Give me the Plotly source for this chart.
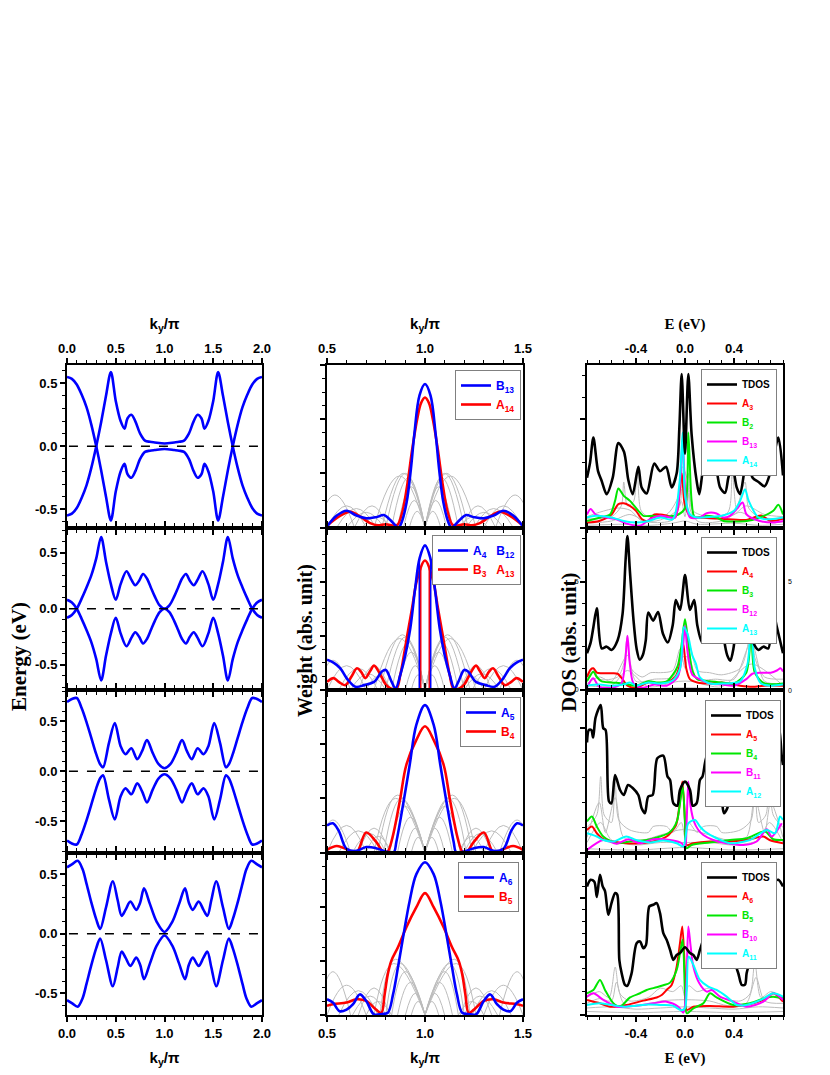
import plotly.graph_objects as go

W, H = 830, 1075
OFF = 8  # page margin of the html body

# ---------------- left column: band structure (k_y/pi, energy in eV) ----------------
band1_k = [0, 0.05, 0.1, 0.15, 0.2, 0.25, 0.3, 0.35, 0.4, 0.45, 0.5, 0.55, 0.59, 0.62, 0.66, 0.7, 0.75, 0.8, 0.85, 0.9, 1.0,
           1.1, 1.15, 1.2, 1.25, 1.3, 1.34, 1.38, 1.41, 1.45, 1.5, 1.55, 1.6, 1.65, 1.7, 1.75, 1.8, 1.85, 1.9, 1.95, 2.0]
band1_a = [0.55, 0.535, 0.49, 0.41, 0.31, 0.17, 0.0, -0.19, -0.4, -0.59, -0.36, -0.2, -0.14, -0.22, -0.25, -0.2, -0.1, -0.045, -0.035, -0.03, -0.022,
           -0.03, -0.035, -0.045, -0.1, -0.2, -0.25, -0.22, -0.14, -0.2, -0.36, -0.59, -0.4, -0.19, 0.0, 0.17, 0.31, 0.41, 0.49, 0.535, 0.55]
band1_b = [-0.55, -0.535, -0.49, -0.41, -0.31, -0.17, 0.0, 0.19, 0.4, 0.59, 0.36, 0.2, 0.14, 0.22, 0.25, 0.2, 0.1, 0.045, 0.035, 0.03, 0.022,
           0.03, 0.035, 0.045, 0.1, 0.2, 0.25, 0.22, 0.14, 0.2, 0.36, 0.59, 0.4, 0.19, 0.0, -0.17, -0.31, -0.41, -0.49, -0.535, -0.55]

band2_k = [0, 0.05, 0.1, 0.15, 0.2, 0.25, 0.3, 0.35, 0.4, 0.45, 0.5, 0.55, 0.61, 0.66, 0.7, 0.74, 0.78, 0.82, 0.86, 0.9, 0.95, 1.0,
           1.05, 1.1, 1.14, 1.18, 1.22, 1.26, 1.3, 1.34, 1.39, 1.45, 1.5, 1.55, 1.6, 1.65, 1.7, 1.75, 1.8, 1.85, 1.9, 1.95, 2.0]
band2_a = [-0.08, -0.055, 0.0, 0.09, 0.19, 0.3, 0.45, 0.64, 0.42, 0.22, 0.08, 0.22, 0.335, 0.26, 0.21, 0.25, 0.31, 0.27, 0.19, 0.11, 0.03, 0.0,
           0.03, 0.11, 0.19, 0.27, 0.31, 0.25, 0.21, 0.26, 0.335, 0.22, 0.08, 0.22, 0.42, 0.64, 0.45, 0.3, 0.19, 0.09, 0.0, -0.055, -0.08]
band2_b = [0.08, 0.055, 0.0, -0.09, -0.19, -0.3, -0.45, -0.64, -0.42, -0.22, -0.08, -0.22, -0.335, -0.26, -0.21, -0.25, -0.31, -0.27, -0.19, -0.11, -0.03, 0.0,
           -0.03, -0.11, -0.19, -0.27, -0.31, -0.25, -0.21, -0.26, -0.335, -0.22, -0.08, -0.22, -0.42, -0.64, -0.45, -0.3, -0.19, -0.09, 0.0, 0.055, 0.08]

band3_k = [0, 0.05, 0.1, 0.15, 0.2, 0.25, 0.3, 0.34, 0.37, 0.43, 0.49, 0.55, 0.6, 0.66, 0.72, 0.77, 0.82, 0.88, 0.94, 1.0,
           1.06, 1.12, 1.18, 1.23, 1.28, 1.34, 1.4, 1.45, 1.51, 1.57, 1.63, 1.66, 1.7, 1.75, 1.8, 1.85, 1.9, 1.95, 2.0]
band3_a = [0.69, 0.72, 0.73, 0.63, 0.49, 0.33, 0.17, 0.07, 0.04, 0.28, 0.48, 0.25, 0.17, 0.23, 0.12, 0.2, 0.31, 0.18, 0.07, 0.03,
           0.07, 0.18, 0.31, 0.2, 0.12, 0.23, 0.17, 0.25, 0.48, 0.28, 0.04, 0.07, 0.17, 0.33, 0.49, 0.63, 0.73, 0.72, 0.69]
band3_b = [-0.69, -0.72, -0.73, -0.63, -0.49, -0.33, -0.17, -0.07, -0.04, -0.28, -0.48, -0.25, -0.17, -0.23, -0.12, -0.2, -0.31, -0.18, -0.07, -0.03,
           -0.07, -0.18, -0.31, -0.2, -0.12, -0.23, -0.17, -0.25, -0.48, -0.28, -0.04, -0.07, -0.17, -0.33, -0.49, -0.63, -0.73, -0.72, -0.69]

band4_k = [0, 0.05, 0.11, 0.16, 0.2, 0.25, 0.3, 0.34, 0.4, 0.47, 0.52, 0.56, 0.6, 0.65, 0.71, 0.75, 0.79, 0.85, 0.92, 1.0,
           1.08, 1.15, 1.21, 1.25, 1.29, 1.35, 1.4, 1.44, 1.48, 1.53, 1.6, 1.66, 1.7, 1.75, 1.8, 1.84, 1.89, 1.95, 2.0]
band4_a = [0.556, 0.58, 0.61, 0.54, 0.42, 0.26, 0.12, 0.04, 0.22, 0.44, 0.28, 0.15, 0.2, 0.27, 0.2, 0.26, 0.38, 0.25, 0.1, 0.015,
           0.1, 0.25, 0.38, 0.26, 0.2, 0.27, 0.2, 0.15, 0.28, 0.44, 0.22, 0.04, 0.12, 0.26, 0.42, 0.54, 0.61, 0.58, 0.556]
band4_b = [-0.556, -0.58, -0.61, -0.54, -0.42, -0.26, -0.12, -0.04, -0.22, -0.44, -0.28, -0.15, -0.2, -0.27, -0.2, -0.26, -0.38, -0.25, -0.1, -0.015,
           -0.1, -0.25, -0.38, -0.26, -0.2, -0.27, -0.2, -0.15, -0.28, -0.44, -0.22, -0.04, -0.12, -0.26, -0.42, -0.54, -0.61, -0.58, -0.556]

band_ranges = [0.645, 0.725, 0.81, 0.68]

# ---------------- middle column: weights ----------------
w1_blue_k = [0.5, 0.55, 0.6, 0.65, 0.7, 0.75, 0.79, 0.82, 0.865, 0.88, 0.906, 0.928, 0.945, 0.972, 1.0,
             1.028, 1.055, 1.072, 1.094, 1.12, 1.135, 1.18, 1.21, 1.25, 1.3, 1.35, 1.4, 1.45, 1.5]
w1_blue = [0.02, 0.22, 0.31, 0.22, 0.17, 0.19, 0.23, 0.15, 0.0, 0.09, 0.46, 1.08, 1.7, 2.44, 2.65,
           2.44, 1.7, 1.08, 0.46, 0.09, 0.0, 0.15, 0.23, 0.19, 0.17, 0.22, 0.31, 0.22, 0.02]
w1_red_k = [0.5, 0.56, 0.62, 0.67, 0.72, 0.76, 0.8, 0.84, 0.86, 0.885, 0.91, 0.935, 0.96, 0.98, 1.0,
            1.02, 1.04, 1.065, 1.09, 1.115, 1.14, 1.16, 1.2, 1.24, 1.28, 1.33, 1.38, 1.44, 1.5]
w1_red = [0.03, 0.2, 0.29, 0.2, 0.08, 0.04, 0.06, 0.03, 0.05, 0.3, 0.8, 1.45, 2.0, 2.3, 2.4,
          2.3, 2.0, 1.45, 0.8, 0.3, 0.05, 0.03, 0.06, 0.04, 0.08, 0.2, 0.29, 0.2, 0.03]
# gray arches: (start k, peak k, end k, peak height)
w1_gray = [(0.74, 0.87, 1.0, 0.95), (0.78, 0.89, 1.0, 1.0), (0.8, 0.9, 1.0, 1.0), (0.83, 0.915, 1.0, 0.92), (0.86, 0.93, 1.0, 0.75),
           (0.89, 0.945, 1.0, 0.5), (0.92, 0.96, 1.0, 0.3),
           (1.0, 1.13, 1.26, 0.95), (1.0, 1.11, 1.22, 1.0), (1.0, 1.1, 1.2, 1.0), (1.0, 1.085, 1.17, 0.92), (1.0, 1.07, 1.14, 0.75),
           (1.0, 1.055, 1.11, 0.5), (1.0, 1.04, 1.08, 0.3),
           (0.45, 0.54, 0.64, 0.6), (0.5, 0.6, 0.7, 0.4), (0.55, 0.65, 0.75, 0.35), (0.6, 0.7, 0.79, 0.28), (0.68, 0.75, 0.83, 0.2),
           (0.64, 0.73, 0.81, 0.4),
           (1.36, 1.46, 1.55, 0.6), (1.3, 1.4, 1.5, 0.4), (1.25, 1.35, 1.45, 0.35), (1.21, 1.3, 1.4, 0.28), (1.17, 1.25, 1.32, 0.2),
           (1.19, 1.27, 1.36, 0.4)]

w2_blue_k = [0.5, 0.535, 0.568, 0.6, 0.645, 0.69, 0.74, 0.78, 0.8, 0.83, 0.85, 0.874, 0.9, 0.925, 0.95, 0.973, 1.0,
             1.027, 1.05, 1.075, 1.1, 1.126, 1.15, 1.17, 1.2, 1.22, 1.26, 1.31, 1.355, 1.4, 1.432, 1.465, 1.5]
w2_blue = [0.56, 0.5, 0.4, 0.22, 0.06, 0.09, 0.15, 0.34, 0.37, 0.15, 0.03, 0.28, 0.65, 1.14, 1.88, 2.44, 2.67,
           2.44, 1.88, 1.14, 0.65, 0.28, 0.03, 0.15, 0.37, 0.34, 0.15, 0.09, 0.06, 0.22, 0.4, 0.5, 0.56]
w2_red_k = [0.5, 0.534, 0.56, 0.594, 0.625, 0.653, 0.675, 0.695, 0.72, 0.74, 0.77, 0.8, 0.83, 0.855, 0.874, 0.89, 0.91, 0.934, 0.96, 1.0,
            1.04, 1.066, 1.09, 1.11, 1.126, 1.145, 1.17, 1.2, 1.23, 1.26, 1.28, 1.305, 1.325, 1.347, 1.375, 1.406, 1.44, 1.466, 1.5]
w2_red = [0.15, 0.22, 0.15, 0.09, 0.25, 0.4, 0.33, 0.22, 0.35, 0.45, 0.3, 0.1, 0.02, 0.03, 0.28, 0.59, 1.02, 1.51, 2.04, 2.39,
          2.04, 1.51, 1.02, 0.59, 0.28, 0.03, 0.02, 0.1, 0.3, 0.45, 0.35, 0.22, 0.33, 0.4, 0.25, 0.09, 0.15, 0.22, 0.15]
w2_spike_blue_k = [0.971, 1.029]
w2_spike_blue_top = [2.42, 2.42]
w2_spike_red_k = [0.978, 1.022]
w2_spike_red_top = [2.25, 2.25]
w2_gray = [(0.74, 0.87, 1.0, 0.95), (0.77, 0.885, 1.0, 1.02), (0.8, 0.9, 1.0, 0.98), (0.83, 0.915, 1.0, 0.88), (0.86, 0.93, 1.0, 0.7),
           (0.9, 0.95, 1.0, 0.45), (0.93, 0.965, 1.0, 0.28),
           (1.0, 1.13, 1.26, 0.95), (1.0, 1.115, 1.23, 1.02), (1.0, 1.1, 1.2, 0.98), (1.0, 1.085, 1.17, 0.88), (1.0, 1.07, 1.14, 0.7),
           (1.0, 1.05, 1.1, 0.45), (1.0, 1.035, 1.07, 0.28),
           (0.45, 0.53, 0.62, 0.55), (0.5, 0.6, 0.7, 0.45), (0.56, 0.66, 0.76, 0.4), (0.62, 0.71, 0.8, 0.3), (0.7, 0.76, 0.83, 0.25),
           (0.66, 0.74, 0.82, 0.45),
           (1.38, 1.47, 1.55, 0.55), (1.3, 1.4, 1.5, 0.45), (1.24, 1.34, 1.44, 0.4), (1.2, 1.29, 1.38, 0.3), (1.17, 1.24, 1.3, 0.25),
           (1.18, 1.26, 1.34, 0.45)]

w3_blue_k = [0.5, 0.53, 0.56, 0.6, 0.65, 0.7, 0.75, 0.8, 0.84, 0.854, 0.888, 0.922, 0.956, 1.0,
             1.044, 1.078, 1.112, 1.146, 1.16, 1.2, 1.25, 1.3, 1.35, 1.4, 1.44, 1.47, 1.5]
w3_blue = [0.5, 0.54, 0.4, 0.07, 0.03, 0.1, 0.08, 0.02, 0.0, 0.2, 0.88, 1.62, 2.36, 2.72,
           2.36, 1.62, 0.88, 0.2, 0.0, 0.02, 0.08, 0.1, 0.03, 0.07, 0.4, 0.54, 0.5]
w3_red_k = [0.5, 0.55, 0.6, 0.65, 0.7, 0.75, 0.79, 0.81, 0.833, 0.871, 0.905, 0.956, 1.0,
            1.044, 1.095, 1.129, 1.167, 1.19, 1.21, 1.25, 1.3, 1.35, 1.4, 1.45, 1.5]
w3_red = [0.05, 0.12, 0.06, 0.0, 0.37, 0.2, 0.0, 0.02, 0.26, 0.94, 1.62, 2.08, 2.33,
          2.08, 1.62, 0.94, 0.26, 0.02, 0.0, 0.2, 0.37, 0.0, 0.06, 0.12, 0.05]
w3_gray = [(0.74, 0.85, 1.0, 1.0), (0.76, 0.86, 1.0, 1.06), (0.79, 0.88, 1.0, 1.0), (0.82, 0.9, 1.0, 0.85), (0.86, 0.925, 1.0, 0.65),
           (0.9, 0.95, 1.0, 0.45), (0.93, 0.965, 1.0, 0.28),
           (1.0, 1.15, 1.26, 1.0), (1.0, 1.14, 1.24, 1.06), (1.0, 1.12, 1.21, 1.0), (1.0, 1.1, 1.18, 0.85), (1.0, 1.075, 1.14, 0.65),
           (1.0, 1.05, 1.1, 0.45), (1.0, 1.035, 1.07, 0.28),
           (0.45, 0.53, 0.62, 0.6), (0.5, 0.6, 0.7, 0.5), (0.56, 0.66, 0.76, 0.4), (0.63, 0.72, 0.8, 0.35), (0.7, 0.76, 0.83, 0.3),
           (0.66, 0.74, 0.82, 0.45),
           (1.38, 1.47, 1.55, 0.6), (1.3, 1.4, 1.5, 0.5), (1.24, 1.34, 1.44, 0.4), (1.2, 1.28, 1.37, 0.35), (1.17, 1.24, 1.3, 0.3),
           (1.18, 1.26, 1.34, 0.45)]

w4_blue_k = [0.5, 0.53, 0.565, 0.6, 0.633, 0.667, 0.7, 0.74, 0.78, 0.81, 0.837, 0.862, 0.888, 0.922, 0.956, 1.0,
             1.044, 1.078, 1.112, 1.138, 1.163, 1.19, 1.22, 1.26, 1.3, 1.333, 1.367, 1.4, 1.435, 1.47, 1.5]
w4_blue = [0.29, 0.23, 0.07, 0.1, 0.2, 0.38, 0.26, 0.01, 0.02, 0.04, 0.38, 0.88, 1.43, 2.11, 2.6, 2.82,
           2.6, 2.11, 1.43, 0.88, 0.38, 0.04, 0.02, 0.01, 0.26, 0.38, 0.2, 0.1, 0.07, 0.23, 0.29]
w4_red_k = [0.5, 0.53, 0.6, 0.65, 0.7, 0.75, 0.777, 0.794, 0.81, 0.828, 0.862, 0.905, 0.956, 1.0,
            1.044, 1.095, 1.138, 1.172, 1.19, 1.206, 1.223, 1.25, 1.3, 1.35, 1.4, 1.47, 1.5]
w4_red = [0.17, 0.2, 0.23, 0.29, 0.26, 0.1, 0.04, 0.38, 0.75, 1.0, 1.25, 1.62, 1.99, 2.25,
          1.99, 1.62, 1.25, 1.0, 0.75, 0.38, 0.04, 0.1, 0.26, 0.29, 0.23, 0.2, 0.17]
w4_gray = [(0.74, 0.84, 1.0, 0.95), (0.77, 0.85, 1.0, 1.03), (0.8, 0.875, 1.0, 0.95), (0.83, 0.9, 1.0, 0.8), (0.86, 0.925, 1.0, 0.6),
           (0.9, 0.95, 1.0, 0.4), (0.93, 0.965, 1.0, 0.25),
           (1.0, 1.16, 1.26, 0.95), (1.0, 1.15, 1.23, 1.03), (1.0, 1.125, 1.2, 0.95), (1.0, 1.1, 1.17, 0.8), (1.0, 1.075, 1.14, 0.6),
           (1.0, 1.05, 1.1, 0.4), (1.0, 1.035, 1.07, 0.25),
           (0.45, 0.53, 0.62, 0.8), (0.5, 0.6, 0.7, 0.55), (0.56, 0.66, 0.76, 0.45), (0.63, 0.72, 0.8, 0.35), (0.7, 0.76, 0.83, 0.25),
           (0.66, 0.74, 0.82, 0.5),
           (1.38, 1.47, 1.55, 0.8), (1.3, 1.4, 1.5, 0.55), (1.24, 1.34, 1.44, 0.45), (1.2, 1.28, 1.37, 0.35), (1.17, 1.24, 1.3, 0.25),
           (1.18, 1.26, 1.34, 0.5)]

# ---------------- right column: DOS (E in eV) ----------------
dos1_e = [-0.8, -0.775, -0.748, -0.71, -0.68, -0.64, -0.59, -0.544, -0.498, -0.463, -0.427, -0.381, -0.354, -0.313, -0.251, -0.204,
          -0.155, -0.109, -0.068, -0.046, -0.027, 0.0, 0.027, 0.054, 0.095, 0.117, 0.158, 0.204, 0.245, 0.286, 0.327, 0.354,
          0.386, 0.422, 0.449, 0.49, 0.51, 0.552, 0.6, 0.65, 0.7, 0.762, 0.8]
dos1_tdos = [2.3, 3.0, 4.15, 2.6, 2.15, 1.54, 2.3, 3.9, 3.5, 2.2, 1.54, 2.8, 1.85, 1.57, 2.95, 2.6,
             2.8, 1.85, 2.5, 4.6, 7.08, 3.4, 7.08, 4.3, 2.15, 1.54, 2.85, 2.5, 2.9, 1.85, 1.6, 2.3,
             2.85, 1.85, 1.54, 2.77, 3.1, 2.3, 2.1, 1.9, 2.6, 4.15, 2.4]
dos1_red_e = [-0.8, -0.7, -0.6, -0.544, -0.5, -0.45, -0.4, -0.35, -0.3, -0.25, -0.2, -0.15, -0.08, -0.027, 0.0, 0.05, 0.15, 0.3, 0.5, 0.62, 0.7, 0.8]
dos1_red = [0.23, 0.3, 0.6, 1.08, 1.12, 1.0, 0.77, 0.38, 0.3, 0.6, 0.6, 0.55, 0.46, 2.5, 1.0, 0.5, 0.45, 0.4, 0.35, 0.55, 0.3, 0.4]
dos1_green_e = [-0.8, -0.69, -0.612, -0.571, -0.544, -0.5, -0.449, -0.381, -0.34, -0.26, -0.15, -0.054, 0.0, 0.027, 0.054, 0.08,
                0.177, 0.258, 0.313, 0.395, 0.503, 0.612, 0.721, 0.762, 0.8]
dos1_green = [0.3, 0.46, 0.6, 1.23, 1.8, 1.46, 1.23, 0.77, 0.54, 0.54, 0.5, 0.6, 0.9, 4.38, 1.23, 0.46,
              0.54, 0.46, 0.3, 0.28, 0.3, 0.46, 0.77, 1.05, 0.6]
dos1_mag_e = [-0.8, -0.77, -0.73, -0.64, -0.56, -0.476, -0.367, -0.286, -0.204, -0.15, -0.082, -0.041, -0.019, 0.008, 0.041, 0.122,
              0.177, 0.258, 0.313, 0.367, 0.422, 0.47, 0.503, 0.612, 0.721, 0.8]
dos1_mag = [0.6, 0.85, 0.6, 0.46, 0.38, 0.18, 0.08, 0.38, 0.54, 0.5, 0.46, 2.0, 4.0, 1.23, 0.46, 0.46,
            0.66, 0.65, 0.46, 0.54, 0.85, 1.15, 0.6, 0.3, 0.23, 0.3]
dos1_cyan_e = [-0.8, -0.73, -0.6, -0.5, -0.4, -0.3, -0.2, -0.1, -0.046, -0.019, 0.0, 0.041, 0.1, 0.2, 0.3, 0.4, 0.45, 0.49, 0.52, 0.6, 0.7, 0.8]
dos1_cyan = [0.46, 0.54, 0.46, 0.3, 0.23, 0.3, 0.46, 0.38, 2.0, 4.38, 1.5, 0.6, 0.46, 0.49, 0.54, 0.77, 1.23, 1.77, 1.23, 0.46, 0.38, 0.46]
dos1_gray_e = [[-0.8, -0.6, -0.52, -0.5, -0.47, -0.42, -0.39, -0.36, -0.3, -0.15, -0.05, -0.02, 0.0, 0.03, 0.06, 0.2, 0.35, 0.386, 0.42, 0.49, 0.52, 0.6, 0.8],
               [-0.8, -0.6, -0.45, -0.3, -0.1, -0.03, 0.0, 0.03, 0.1, 0.3, 0.45, 0.6, 0.8],
               [-0.8, -0.7, -0.55, -0.45, -0.35, -0.2, -0.05, -0.02, 0.02, 0.06, 0.25, 0.4, 0.5, 0.65, 0.8],
               [-0.8, -0.5, -0.3, -0.1, 0.0, 0.1, 0.4, 0.6, 0.8]]
dos1_gray_v = [[0.4, 0.5, 1.0, 2.1, 1.0, 1.2, 2.6, 0.8, 0.5, 0.6, 1.5, 3.7, 1.0, 2.5, 0.8, 0.5, 0.7, 2.6, 0.9, 2.1, 0.9, 0.5, 0.4],
               [0.2, 0.3, 0.6, 0.25, 0.35, 1.2, 0.5, 1.5, 0.3, 0.3, 0.7, 0.3, 0.25],
               [0.5, 0.7, 0.9, 0.8, 0.3, 0.35, 0.9, 2.8, 2.2, 0.6, 0.4, 0.6, 1.0, 0.6, 0.5],
               [0.1, 0.15, 0.1, 0.2, 0.3, 0.15, 0.2, 0.1, 0.15]]

dos2_e = [-0.8, -0.77, -0.748, -0.72, -0.68, -0.64, -0.6, -0.55, -0.51, -0.485, -0.47, -0.45, -0.42, -0.395, -0.37, -0.345, -0.32,
          -0.3, -0.26, -0.22, -0.18, -0.14, -0.1, -0.075, -0.04, 0.0, 0.04, 0.075, 0.1, 0.14, 0.18, 0.22, 0.26, 0.3, 0.32, 0.345,
          0.37, 0.395, 0.42, 0.45, 0.47, 0.485, 0.51, 0.55, 0.6, 0.64, 0.68, 0.72, 0.75, 0.8]
dos2_tdos = [1.7, 2.2, 2.9, 3.77, 1.92, 2.0, 1.85, 2.3, 3.5, 6.0, 7.1, 5.5, 3.2, 1.9, 1.4, 1.6, 2.3,
             3.57, 3.2, 3.6, 2.6, 2.2, 3.0, 4.15, 3.7, 5.3, 3.7, 4.15, 3.0, 2.2, 2.6, 3.6, 3.2, 3.57, 2.3, 1.6,
             1.35, 1.9, 3.2, 5.5, 6.5, 5.0, 3.5, 2.3, 1.85, 2.0, 1.92, 3.6, 2.9, 1.7]
dos2_red_e = [-0.8, -0.77, -0.748, -0.72, -0.68, -0.6, -0.55, -0.51, -0.47, -0.4, -0.3, -0.22, -0.15, -0.08, -0.04, -0.015, 0.01,
              0.04, 0.1, 0.2, 0.3, 0.45, 0.55, 0.65, 0.8]
dos2_red = [0.6, 0.95, 1.0, 0.8, 0.77, 0.77, 0.75, 0.5, 0.2, 0.1, 0.35, 0.3, 0.35, 0.6, 1.2, 2.15, 1.0,
            0.5, 0.35, 0.3, 0.35, 0.2, 0.15, 0.2, 0.2]
dos2_green_e = [-0.8, -0.77, -0.748, -0.72, -0.68, -0.6, -0.5, -0.4, -0.3, -0.22, -0.15, -0.1, -0.06, -0.03, 0.0, 0.03, 0.06,
                0.1, 0.2, 0.3, 0.4, 0.5, 0.54, 0.57, 0.65, 0.8]
dos2_green = [0.4, 0.7, 0.85, 0.6, 0.4, 0.35, 0.3, 0.2, 0.4, 0.35, 0.4, 0.7, 1.1, 2.0, 3.26, 2.0, 0.9,
              0.5, 0.4, 0.35, 0.3, 0.8, 2.6, 0.8, 0.3, 0.3]
dos2_mag_e = [-0.8, -0.75, -0.7, -0.6, -0.52, -0.49, -0.47, -0.45, -0.42, -0.35, -0.25, -0.15, -0.06, -0.02, 0.0, 0.02, 0.06,
              0.12, 0.2, 0.3, 0.4, 0.5, 0.55, 0.62, 0.7, 0.75, 0.78, 0.8]
dos2_mag = [0.1, 0.54, 0.15, 0.1, 0.3, 1.2, 2.5, 1.2, 0.3, 0.1, 0.25, 0.2, 0.6, 1.8, 2.95, 1.8, 0.7,
            0.5, 0.3, 0.25, 0.2, 0.5, 0.75, 0.8, 0.8, 0.9, 1.0, 0.85]
dos2_cyan_e = [-0.8, -0.7, -0.6, -0.5, -0.45, -0.4, -0.3, -0.2, -0.1, -0.04, -0.01, 0.02, 0.06, 0.09, 0.12, 0.2, 0.3, 0.45,
               0.51, 0.54, 0.57, 0.62, 0.7, 0.8]
dos2_cyan = [0.2, 0.25, 0.2, 0.25, 0.35, 0.2, 0.35, 0.3, 0.45, 1.0, 2.9, 2.6, 1.6, 1.2, 0.6, 0.3, 0.3, 0.4,
             1.2, 3.0, 1.0, 0.3, 0.2, 0.25]
dos2_gray_e = [[-0.8, -0.75, -0.7, -0.55, -0.5, -0.47, -0.44, -0.35, -0.28, -0.2, -0.1, -0.04, 0.0, 0.04, 0.1, 0.2, 0.3, 0.45, 0.51, 0.54, 0.57, 0.65, 0.8],
               [-0.8, -0.7, -0.6, -0.47, -0.4, -0.25, -0.1, -0.03, 0.03, 0.1, 0.25, 0.4, 0.54, 0.65, 0.8],
               [-0.8, -0.6, -0.47, -0.3, -0.05, 0.05, 0.3, 0.54, 0.8],
               [-0.8, -0.4, 0.0, 0.4, 0.8]]
dos2_gray_v = [[0.5, 1.0, 0.5, 0.6, 1.2, 2.5, 1.0, 0.6, 0.8, 0.8, 0.9, 1.9, 1.0, 2.0, 0.9, 0.8, 0.7, 1.0, 2.0, 3.6, 1.5, 0.6, 0.5],
               [0.3, 0.6, 0.4, 1.6, 0.4, 0.5, 0.6, 1.5, 1.5, 0.5, 0.5, 0.5, 2.2, 0.4, 0.3],
               [0.2, 0.2, 0.9, 0.15, 0.4, 0.4, 0.15, 1.2, 0.2],
               [0.05, 0.05, 0.1, 0.05, 0.05]]

dos3_e = [-0.8, -0.785, -0.765, -0.75, -0.73, -0.688, -0.667, -0.648, -0.62, -0.6, -0.571, -0.53, -0.5, -0.465, -0.425, -0.381,
          -0.354, -0.327, -0.3, -0.264, -0.226, -0.177, -0.143, -0.122, -0.095, -0.063, -0.041, 0.0, 0.041, 0.063, 0.095, 0.122,
          0.143, 0.18, 0.215, 0.253, 0.29, 0.318, 0.345, 0.367, 0.408, 0.449, 0.49, 0.53, 0.571, 0.6, 0.62, 0.648, 0.688, 0.73,
          0.77, 0.79, 0.8]
dos3_tdos = [4.4, 4.9, 4.9, 4.6, 5.4, 5.9, 4.97, 4.9, 2.04, 1.97, 3.1, 2.5, 2.3, 2.7, 2.57, 2.3,
             1.77, 1.57, 2.24, 2.3, 3.77, 3.87, 3.04, 2.9, 1.97, 1.87, 2.5, 2.84, 2.5, 1.87, 1.97, 2.9,
             3.04, 3.87, 3.77, 2.3, 2.24, 1.57, 1.77, 2.3, 2.57, 2.7, 2.3, 2.5, 3.1, 1.97, 2.04, 4.9, 5.9, 5.4,
             4.9, 3.84, 3.5]
dos3_red_e = [-0.8, -0.76, -0.72, -0.667, -0.585, -0.48, -0.37, -0.26, -0.15, -0.109, -0.073, -0.046, -0.022, 0.0, 0.014, 0.068,
              0.204, 0.367, 0.53, 0.64, 0.69, 0.8]
dos3_red = [0.9, 1.04, 0.77, 0.53, 0.44, 0.37, 0.37, 0.44, 0.64, 0.84, 1.1, 1.84, 2.84, 1.3, 0.3, 0.37,
            0.44, 0.44, 0.53, 0.64, 0.5, 0.37]
dos3_green_e = [-0.8, -0.76, -0.72, -0.667, -0.558, -0.45, -0.313, -0.204, -0.136, -0.095, -0.063, -0.041, -0.019, 0.0, 0.014,
                0.054, 0.204, 0.367, 0.503, 0.653, 0.72, 0.8]
dos3_green = [1.24, 1.44, 1.04, 0.64, 0.37, 0.44, 0.5, 0.64, 0.77, 0.97, 1.3, 1.97, 2.64, 1.17, 0.17,
              0.3, 0.4, 0.5, 0.57, 0.84, 0.53, 0.5]
dos3_mag_e = [-0.8, -0.667, -0.558, -0.46, -0.367, -0.26, -0.122, -0.027, 0.0, 0.014, 0.027, 0.046, 0.073, 0.109, 0.15, 0.23,
              0.34, 0.476, 0.585, 0.667, 0.707, 0.79]
dos3_mag = [0.1, 0.5, 0.35, 0.53, 0.37, 0.53, 0.5, 0.37, 0.17, 1.3, 2.84, 1.84, 1.24, 0.9, 0.7, 0.5,
            0.37, 0.3, 0.44, 0.93, 0.64, 1.17]
dos3_cyan_e = [-0.8, -0.72, -0.667, -0.585, -0.48, -0.4, -0.286, -0.177, -0.068, -0.014, 0.027, 0.082, 0.122, 0.163, 0.258,
               0.367, 0.53, 0.667, 0.735, 0.776, 0.8]
dos3_cyan = [0.77, 0.64, 0.5, 0.44, 0.64, 0.5, 0.4, 0.48, 0.37, 0.24, 1.17, 1.3, 1.04, 0.84, 0.57,
             0.37, 0.5, 0.9, 0.77, 1.44, 1.3]
dos3_gray_e = [[-0.8, -0.72, -0.688, -0.66, -0.6, -0.571, -0.54, -0.45, -0.3, -0.26, -0.15, -0.1, -0.03, 0.0, 0.03, 0.1, 0.15, 0.26,
                0.3, 0.45, 0.54, 0.571, 0.6, 0.66, 0.688, 0.72, 0.8],
               [-0.8, -0.7, -0.65, -0.57, -0.5, -0.35, -0.2, -0.05, 0.05, 0.2, 0.35, 0.5, 0.57, 0.65, 0.7, 0.8],
               [-0.8, -0.69, -0.6, -0.4, -0.2, 0.0, 0.2, 0.4, 0.6, 0.69, 0.8],
               [-0.8, -0.4, 0.0, 0.4, 0.8]]
dos3_gray_v = [[1.0, 1.5, 3.04, 1.5, 1.2, 3.1, 1.3, 0.9, 0.8, 1.04, 1.04, 0.8, 1.2, 0.6, 1.2, 0.8, 1.04, 1.04,
                0.8, 0.9, 1.3, 3.1, 1.2, 1.5, 3.04, 1.5, 1.0],
               [0.6, 2.0, 0.8, 2.2, 0.6, 0.5, 0.7, 0.9, 0.9, 0.7, 0.5, 0.6, 2.2, 0.8, 2.0, 0.6],
               [0.4, 1.2, 0.5, 0.3, 0.4, 0.4, 0.4, 0.3, 0.5, 1.2, 0.4],
               [0.15, 0.1, 0.2, 0.1, 0.15]]

dos4_e = [-0.8, -0.77, -0.74, -0.72, -0.694, -0.672, -0.653, -0.626, -0.6, -0.57, -0.553, -0.536, -0.517, -0.49, -0.471, -0.436,
          -0.395, -0.367, -0.34, -0.318, -0.291, -0.259, -0.231, -0.204, -0.177, -0.15, -0.122, -0.095, -0.068, -0.04, 0.0, 0.04,
          0.068, 0.095, 0.122, 0.15, 0.177, 0.204, 0.231, 0.259, 0.291, 0.32, 0.35, 0.395, 0.435, 0.463, 0.49, 0.503, 0.53, 0.55,
          0.575, 0.6, 0.626, 0.653, 0.672, 0.694, 0.716, 0.735, 0.762, 0.8]
dos4_tdos = [11.0, 11.57, 11.4, 10.1, 12.0, 11.0, 10.6, 8.57, 9.57, 10.43, 10.3, 4.7, 3.57, 2.57, 2.5, 3.57,
             6.14, 6.29, 5.71, 6.0, 9.29, 9.43, 9.57, 8.71, 7.0, 6.43, 5.57, 4.71, 5.14, 5.3, 5.8, 5.3,
             5.14, 4.71, 5.57, 6.43, 7.0, 8.71, 9.57, 9.43, 9.29, 6.0, 5.5, 4.7, 3.57, 2.57, 2.6, 3.57, 4.7, 7.6,
             10.4, 10.4, 9.57, 8.57, 10.6, 12.0, 10.1, 11.4, 11.57, 11.0]
dos4_red_e = [-0.8, -0.748, -0.694, -0.612, -0.476, -0.34, -0.231, -0.19, -0.15, -0.109, -0.068, -0.041, -0.022, 0.0, 0.014, 0.068,
              0.204, 0.395, 0.558, 0.667, 0.721, 0.8]
dos4_red = [1.29, 1.14, 1.0, 0.71, 0.86, 1.23, 1.5, 1.71, 2.14, 2.57, 4.14, 6.14, 7.57, 3.5, 0.43, 0.71,
            0.77, 0.71, 1.0, 1.43, 1.86, 1.14]
dos4_green_e = [-0.8, -0.748, -0.694, -0.653, -0.585, -0.531, -0.449, -0.367, -0.313, -0.231, -0.177, -0.122, -0.068, -0.041, -0.019,
                0.0, 0.014, 0.068, 0.15, 0.204, 0.258, 0.395, 0.53, 0.667, 0.721, 0.8]
dos4_green = [1.86, 2.14, 3.0, 2.14, 1.0, 0.71, 1.5, 1.86, 2.14, 2.37, 2.54, 2.77, 3.86, 5.29, 6.43,
              1.86, 0.14, 0.57, 1.0, 1.86, 1.5, 0.86, 1.0, 1.5, 1.57, 1.43]
dos4_mag_e = [-0.8, -0.748, -0.667, -0.558, -0.422, -0.259, -0.15, -0.054, -0.014, 0.008, 0.027, 0.046, 0.068, 0.117, 0.177, 0.218,
              0.286, 0.395, 0.503, 0.64, 0.721, 0.8]
dos4_mag = [1.57, 1.86, 1.29, 0.71, 0.77, 1.0, 1.14, 0.71, 0.2, 1.86, 7.57, 5.86, 4.14, 2.71, 2.0, 2.14,
            1.57, 1.14, 0.71, 1.14, 1.86, 1.29]
dos4_cyan_e = [-0.8, -0.7, -0.6, -0.5, -0.4, -0.3, -0.2, -0.1, -0.03, 0.0, 0.03, 0.068, 0.122, 0.19, 0.258, 0.34, 0.422, 0.5,
               0.62, 0.72, 0.8]
dos4_cyan = [0.86, 1.0, 0.86, 0.7, 0.8, 0.9, 0.85, 0.8, 0.4, 0.6, 5.0, 4.3, 3.0, 2.43, 2.14, 1.57, 0.86, 0.86,
             1.29, 1.86, 1.57]
dos4_gray_e = [[-0.8, -0.7, -0.62, -0.57, -0.53, -0.45, -0.3, -0.2, -0.1, -0.03, 0.0, 0.03, 0.1, 0.2, 0.3, 0.45, 0.53, 0.57, 0.62, 0.7, 0.8],
               [-0.8, -0.7, -0.6, -0.56, -0.5, -0.35, -0.2, -0.05, 0.05, 0.2, 0.35, 0.5, 0.58, 0.65, 0.8],
               [-0.8, -0.6, -0.4, -0.2, 0.0, 0.2, 0.4, 0.6, 0.8],
               [-0.8, -0.4, 0.0, 0.4, 0.8]]
dos4_gray_v = [[1.5, 2.0, 1.5, 4.1, 1.8, 1.2, 1.5, 2.3, 2.0, 2.5, 1.5, 2.5, 2.0, 2.3, 1.5, 1.2, 1.8, 4.5, 1.5, 2.0, 1.5],
               [1.0, 1.4, 1.2, 2.8, 1.0, 0.8, 1.2, 1.3, 1.3, 1.2, 0.8, 1.0, 3.2, 1.2, 1.0],
               [0.6, 0.7, 0.5, 0.6, 0.7, 0.6, 0.5, 0.7, 0.6],
               [0.3, 0.2, 0.3, 0.2, 0.3]]

dos_ranges = [7.5, 7.5, 6.5, 13.9]

# legend labels
w_blue_names = ['B<sub>13</sub>', 'A<sub>4</sub>&nbsp;&nbsp;&nbsp;B<sub>12</sub>', 'A<sub>5</sub>', 'A<sub>6</sub>']
w_red_names = ['A<sub>14</sub>', 'B<sub>3</sub>&nbsp;&nbsp;&nbsp;A<sub>13</sub>', 'B<sub>4</sub>', 'B<sub>5</sub>']
dos_names = [['A<sub>3</sub>', 'B<sub>2</sub>', 'B<sub>13</sub>', 'A<sub>14</sub>'],
             ['A<sub>4</sub>', 'B<sub>3</sub>', 'B<sub>12</sub>', 'A<sub>13</sub>'],
             ['A<sub>5</sub>', 'B<sub>4</sub>', 'B<sub>11</sub>', 'A<sub>12</sub>'],
             ['A<sub>6</sub>', 'B<sub>5</sub>', 'B<sub>10</sub>', 'A<sub>11</sub>']]

# tick labels
k_ticks = [0, 0.5, 1.0, 1.5, 2.0]
k_ticktext = ['0.0', '0.5', '1.0', '1.5', '2.0']
kw_ticks = [0.5, 1.0, 1.5]
kw_ticktext = ['0.5', '1.0', '1.5']
e_ticks = [-0.4, 0.0, 0.4]
e_ticktext = ['-0.4', '0.0', '0.4']
band_ticks = [-0.5, 0.0, 0.5]
band_ticktext = ['-0.5', '0.0', '0.5']

BLUE, RED, GREEN, MAG, CYAN, GRAY = '#0000ff', '#ff0000', '#00e600', '#ff00ff', '#00ffff', '#bcbcbc'

# panel edges in picture pixels
col_px = [(67, 262), (327, 523), (587, 783)]
row_px = [(365, 527.5), (527.5, 690), (690, 852.5), (852.5, 1015)]


def xp(px):
    return (px - OFF) / W


def yp(py):
    return 1 - (py - OFF) / H


fig = go.Figure()


def ref(i, kind):
    return kind if i == 1 else f'{kind}{i}'


def cell(r, c):
    return r * 3 + c + 1


def add_line(i, x, y, color, width, name=None, legend=None, rank=None, shape='spline', smoothing=1.0):
    fig.add_trace(go.Scatter(
        x=x, y=y, mode='lines', xaxis=ref(i, 'x'), yaxis=ref(i, 'y'),
        line=dict(color=color, width=width, shape=shape, smoothing=smoothing),
        name=name, showlegend=name is not None, legend=legend or 'legend',
        legendrank=rank if rank is not None else 1000, hoverinfo='skip'))


def colored(text, color):
    return f"<span style='color:{color}'>{text}</span>"


# band structure
bands = [(band1_k, band1_a, band1_b), (band2_k, band2_a, band2_b),
         (band3_k, band3_a, band3_b), (band4_k, band4_a, band4_b)]
for r, (k, a, b) in enumerate(bands):
    i = cell(r, 0)
    add_line(i, k, a, BLUE, 2.6, smoothing=0.9)
    add_line(i, k, b, BLUE, 2.6, smoothing=0.9)

# weights
weights = [(w1_blue_k, w1_blue, w1_red_k, w1_red, w1_gray),
           (w2_blue_k, w2_blue, w2_red_k, w2_red, w2_gray),
           (w3_blue_k, w3_blue, w3_red_k, w3_red, w3_gray),
           (w4_blue_k, w4_blue, w4_red_k, w4_red, w4_gray)]
for r, (bk, bw, rk, rw, gray) in enumerate(weights):
    i = cell(r, 1)
    lg = 'legend' if r == 0 else f'legend{r + 1}'
    gx, gy = [], []
    for a, m, b, h in gray:
        gx += [a, m, b, None]
        gy += [0, h, 0, None]
    add_line(i, gx, gy, GRAY, 1.0, smoothing=1.3)
    add_line(i, rk, rw, RED, 2.6, name=colored(w_red_names[r], RED), legend=lg, rank=2)
    add_line(i, bk, bw, BLUE, 2.6, name=colored(w_blue_names[r], BLUE), legend=lg, rank=1)
    if r == 1:
        for sk, stop, col in ((w2_spike_red_k, w2_spike_red_top, RED), (w2_spike_blue_k, w2_spike_blue_top, BLUE)):
            sx, sy = [], []
            for kk, top in zip(sk, stop):
                sx += [kk, kk, None]
                sy += [0, top, None]
            add_line(i, sx, sy, col, 1.6, shape='linear')

# DOS
dos = [(dos1_e, dos1_tdos, dos1_red_e, dos1_red, dos1_green_e, dos1_green, dos1_mag_e, dos1_mag, dos1_cyan_e, dos1_cyan, dos1_gray_e, dos1_gray_v),
       (dos2_e, dos2_tdos, dos2_red_e, dos2_red, dos2_green_e, dos2_green, dos2_mag_e, dos2_mag, dos2_cyan_e, dos2_cyan, dos2_gray_e, dos2_gray_v),
       (dos3_e, dos3_tdos, dos3_red_e, dos3_red, dos3_green_e, dos3_green, dos3_mag_e, dos3_mag, dos3_cyan_e, dos3_cyan, dos3_gray_e, dos3_gray_v),
       (dos4_e, dos4_tdos, dos4_red_e, dos4_red, dos4_green_e, dos4_green, dos4_mag_e, dos4_mag, dos4_cyan_e, dos4_cyan, dos4_gray_e, dos4_gray_v)]
for r, (e, t, re_, rv, ge, gv, me, mv, ce, cv, gre, grv) in enumerate(dos):
    i = cell(r, 2)
    lg = f'legend{r + 5}'
    for x, y in zip(gre, grv):
        add_line(i, x, y, GRAY, 1.0, smoothing=0.8)
    names = dos_names[r]
    add_line(i, re_, rv, RED, 2.0, name=colored(names[0], RED), legend=lg, rank=2, smoothing=0.8)
    add_line(i, ge, gv, GREEN, 2.0, name=colored(names[1], GREEN), legend=lg, rank=3, smoothing=0.8)
    add_line(i, me, mv, MAG, 2.0, name=colored(names[2], MAG), legend=lg, rank=4, smoothing=0.8)
    add_line(i, ce, cv, CYAN, 2.0, name=colored(names[3], CYAN), legend=lg, rank=5, smoothing=0.8)
    add_line(i, e, t, 'black', 2.6, name='TDOS', legend=lg, rank=1, smoothing=0.8)

# axes
tick_font = dict(family='Liberation Sans', size=13, color='black', weight='bold')
minor_ticks = dict(ticks='outside', ticklen=3, tickwidth=1.2, tickcolor='black')
layout = {}
for r in range(4):
    for c in range(3):
        i = cell(r, c)
        x0, x1 = col_px[c]
        y0, y1 = row_px[r]
        base = dict(showline=True, linecolor='black', linewidth=2, ticks='outside', ticklen=5, tickwidth=1.5,
                    tickcolor='black', showgrid=False, zeroline=False, tickfont=tick_font, fixedrange=True)
        xa = dict(base, domain=[xp(x0), xp(x1)], anchor=ref(i, 'y'), mirror='ticks',
                  minor=dict(minor_ticks, tickmode='linear', tick0=0, dtick=0.1))
        ya = dict(base, domain=[yp(y1), yp(y0)], anchor=ref(i, 'x'), mirror=True)
        if c == 0:
            xa.update(range=[0, 2], tickmode='array', tickvals=k_ticks, ticktext=k_ticktext)
            ya.update(range=[-band_ranges[r], band_ranges[r]], tickmode='array', tickvals=band_ticks, ticktext=band_ticktext,
                      minor=dict(minor_ticks, tickmode='linear', tick0=0, dtick=0.1))
            xtitle = dict(text='k<sub>y</sub>/π', font=dict(family='Liberation Sans', size=15, color='black', weight='bold'))
        elif c == 1:
            xa.update(range=[0.5, 1.5], tickmode='array', tickvals=kw_ticks, ticktext=kw_ticktext)
            ya.update(range=[0, 3.0], tick0=0, dtick=1, showticklabels=False,
                      minor=dict(minor_ticks, tick0=0, dtick=0.25))
            xtitle = dict(text='k<sub>y</sub>/π', font=dict(family='Liberation Sans', size=15, color='black', weight='bold'))
        else:
            xa.update(range=[-0.8, 0.8], tickmode='array', tickvals=e_ticks, ticktext=e_ticktext)
            ya.update(range=[0, dos_ranges[r]], tick0=0, dtick=5, showticklabels=(r == 1),
                      tickfont=dict(family='Liberation Sans', size=7, color='black'),
                      minor=dict(minor_ticks, tick0=0, dtick=1))
            xtitle = dict(text='E (eV)', font=dict(family='Liberation Serif', size=15, color='black', weight='bold'))
        if r == 0:
            xa.update(side='top', title=dict(xtitle, standoff=8))
        elif r == 3:
            xa.update(side='bottom', title=dict(xtitle, standoff=13))
        else:
            xa.update(showticklabels=False)
        layout[('xaxis' if i == 1 else f'xaxis{i}')] = xa
        layout[('yaxis' if i == 1 else f'yaxis{i}')] = ya


def legend_box(right, top, size):
    return dict(x=xp(right), y=yp(top), xanchor='right', yanchor='top', xref='paper', yref='paper',
                bgcolor='white', bordercolor='#808080', borderwidth=1, itemwidth=30, tracegroupgap=0,
                font=dict(family='Liberation Sans', size=size, color='black', weight='bold'))


legend_pos = [(521, 370, 12), (521, 535, 12), (521, 697, 12), (519, 862, 12),
              (777, 369, 10), (777, 537, 10), (781, 700, 10), (777, 862, 10)]
for n, (rx, ty, sz) in enumerate(legend_pos):
    layout['legend' if n == 0 else f'legend{n + 1}'] = legend_box(rx, ty, sz)

shapes = []
for r in range(4):
    i = cell(r, 0)
    shapes.append(dict(type='line', xref=f'{ref(i, "x")} domain', yref=ref(i, 'y'), x0=0.01, x1=0.99, y0=0, y1=0,
                       line=dict(color='black', width=1.5, dash='dash')))

title_font = dict(family='Liberation Serif', size=21, color='black', weight='bold')
annotations = [
    dict(text='Energy (eV)', x=xp(19), y=yp(657), textangle=-90, font=title_font),
    dict(text='Weight (abs. unit)', x=xp(306), y=yp(641), textangle=-90, font=dict(title_font, size=20)),
    dict(text='DOS (abs. unit)', x=xp(569), y=yp(643), textangle=-90, font=dict(title_font, size=21)),
]
for a in annotations:
    a.update(xref='paper', yref='paper', showarrow=False, xanchor='center', yanchor='middle')
i6 = cell(1, 2)
for v in [0, 5]:
    annotations.append(dict(text=str(v), xref=f'{ref(i6, "x")} domain', yref=ref(i6, 'y'), x=1.015, y=v,
                            xanchor='left', yanchor='middle', showarrow=False,
                            font=dict(family='Liberation Sans', size=7, color='black')))

fig.update_layout(
    width=W, height=H, template='none',
    paper_bgcolor='white', plot_bgcolor='white',
    margin=dict(l=0, r=0, t=0, b=0),
    shapes=shapes, annotations=annotations,
    **layout,
)

fig.write_html("out.html")
